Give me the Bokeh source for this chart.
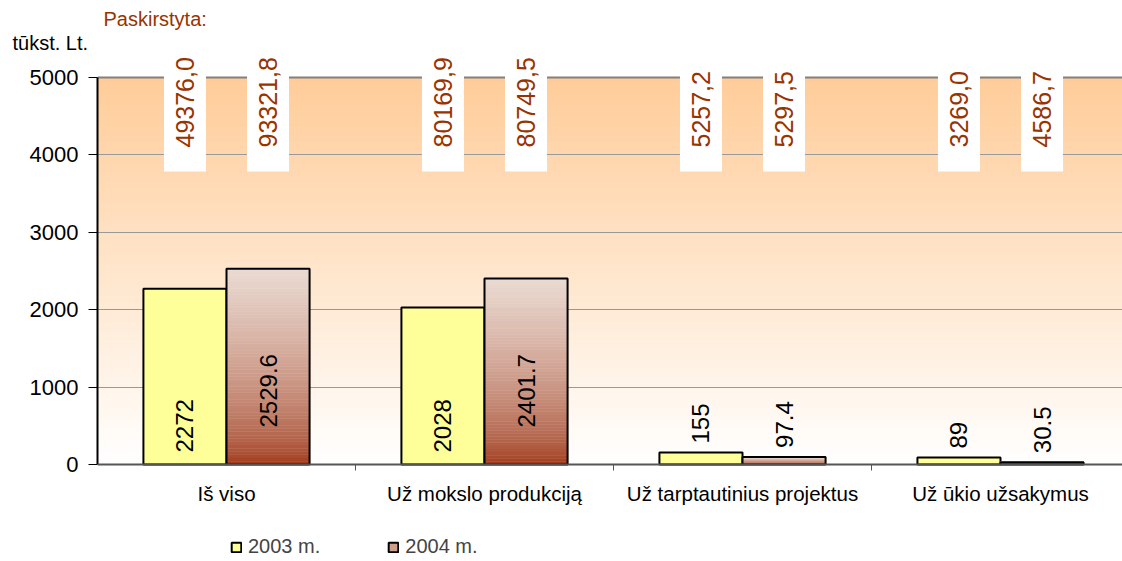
import numpy as np
from bokeh.plotting import figure
from bokeh.models import Range1d, FixedTicker, Legend, LegendItem, Title, Span
from bokeh.core.properties import value
from bokeh.embed import file_html
from bokeh.resources import INLINE

# ---------------- data ----------------
categories = ["Iš viso", "Už mokslo produkciją", "Už tarptautinius projektus", "Už ūkio užsakymus"]
values_2003 = [2272, 2028, 155, 89]
values_2004 = [2529.6, 2401.7, 97.4, 30.5]
labels_2003 = ["2272", "2028", "155", "89"]
labels_2004 = ["2529.6", "2401.7", "97.4", "30.5"]
allocated_2003 = ["49376,0", "80169,9", "5257,2", "3269,0"]
allocated_2004 = ["93321,8", "80749,5", "5297,5", "4586,7"]
series_names = ["2003 m.", "2004 m."]
y_ticks = [0, 1000, 2000, 3000, 4000, 5000]
y_max = 5000

# ---------------- layout (pixels) ----------------
FONT = "Liberation Sans"
W, H = 1122, 561
B_LEFT, B_TOP = 97, 53
Y0_PX, YMAX_PX = 464, 77              # canvas rows of 0 and y_max
u = y_max / (Y0_PX - YMAX_PX)         # data units per pixel
cat_px = 258.0
x_end = (W - B_LEFT) / cat_px
y_end = y_max + (YMAX_PX - B_TOP) * u
y_start = -(H - Y0_PX) * u

bar_w = 0.322
n = len(categories)
centers = np.arange(n) + 0.5
x03 = centers - bar_w / 2
x04 = centers + bar_w / 2

p = figure(width=W, height=H, output_backend="svg", toolbar_location=None,
           x_range=Range1d(0, x_end), y_range=Range1d(y_start, y_end),
           x_axis_location=None,
           min_border_left=B_LEFT, min_border_right=0, min_border_top=B_TOP,
           min_border_bottom=0, background_fill_color="white",
           border_fill_color="white", outline_line_color=None)

# titles
p.title.text = "Paskirstyta:"
p.title.text_font = FONT
p.title.text_font_size = "20px"
p.title.text_font_style = "normal"
p.title.text_color = "#993300"
p.title.align = "left"
p.title.offset = 6
p.title.standoff = 0
t2 = Title(text="tūkst. Lt.", text_font=FONT, text_font_size="20px",
           text_font_style="normal", text_color="black", align="left",
           offset=-85, standoff=0)
p.add_layout(t2, "above")

# gradient background of plot area (0..y_max)
nb = 200
edges = np.linspace(0, y_max, nb + 1)
mids = (edges[:-1] + edges[1:]) / 2 / y_max
top_c = np.array([255, 204, 153])
bot_c = np.array([255, 255, 255])
bg_cols = ["#%02x%02x%02x" % tuple(np.round(bot_c + (top_c - bot_c) * t).astype(int)) for t in mids]
p.quad(left=0, right=x_end, bottom=edges[:-1], top=edges[1:], fill_color=bg_cols,
       line_color=bg_cols, line_width=1, level="image")

# grid
p.xgrid.visible = False
p.ygrid.ticker = FixedTicker(ticks=y_ticks[1:-1])
p.ygrid.grid_line_color = "#999999"
p.ygrid.grid_line_width = 1
p.add_layout(Span(location=y_max, dimension="width", line_color="#808080",
                  line_width=2, level="underlay"))

# bars 2003
r03 = p.vbar(x=x03, top=values_2003, width=bar_w, bottom=0, fill_color="#FFFF99",
             line_color="black", line_width=2)

# bars 2004 with vertical gradient (slices; order starts mid-bar so the
# legend swatch, which uses row 3, gets a mid-tone)
light = np.array([234, 219, 211])
dark = np.array([156, 50, 18])
ns = 60
order = [(k + 25) % ns for k in range(ns)]
L, R, Bo, To, C = [], [], [], [], []
for xc, v in zip(x04, values_2004):
    e = np.linspace(0, v, ns + 1)
    for i in order:
        t = ((i + 0.5) / ns) ** 0.6
        col = "#%02x%02x%02x" % tuple(np.round(dark + (light - dark) * t).astype(int))
        L.append(xc - bar_w / 2); R.append(xc + bar_w / 2)
        Bo.append(e[i]); To.append(e[i + 1]); C.append(col)
r04g = p.quad(left=L, right=R, bottom=Bo, top=To, fill_color=C, line_color=C, line_width=0.5)
r04o = p.vbar(x=x04, top=values_2004, width=bar_w, bottom=0, fill_alpha=0,
              line_color="black", line_width=2)

# value labels
def label_y(vals, base_off_px):
    return [v + 9 * u if v < 1000 else base_off_px * u for v in vals]

p.text(x=x03, y=label_y(values_2003, 12), text=labels_2003, angle=np.pi / 2,
       text_align="left", text_baseline="middle", text_font=value(FONT),
       text_font_size="24px", text_color="black")
p.text(x=x04, y=label_y(values_2004, 37), text=labels_2004, angle=np.pi / 2,
       text_align="left", text_baseline="middle", text_font=value(FONT),
       text_font_size="24px", text_color="black")

# allocated amounts at top (white boxes)
xs_all = np.concatenate([x03, x04])
txt_all = allocated_2003 + allocated_2004
text_start = y_max - 70 * u
box_w = 42 / cat_px
p.quad(left=xs_all - box_w / 2, right=xs_all + box_w / 2, bottom=text_start - 24 * u,
       top=y_end, fill_color="white", line_color=None)
p.text(x=xs_all, y=text_start, text=txt_all, angle=np.pi / 2, text_align="left",
       text_baseline="middle", text_font=value(FONT), text_font_size="25px",
       text_color="#993300")

# y axis
ya = p.yaxis[0]
ya.ticker = FixedTicker(ticks=y_ticks)
ya.bounds = (0, y_max)
ya.axis_line_color = "black"
ya.axis_line_width = 2
ya.major_tick_out = 9
ya.major_tick_in = 0
ya.major_tick_line_color = "black"
ya.minor_tick_out = 0
ya.minor_tick_in = 0
ya.major_label_text_font = FONT
ya.major_label_text_font_size = "22px"
ya.major_label_standoff = 10
ya.major_label_text_color = "black"

# category axis (drawn in the frame: line, boundary ticks, labels)
p.add_layout(Span(location=0, dimension="width", line_color="#555555", line_width=2))
bounds_x = np.arange(1, n)
p.segment(x0=bounds_x, y0=0, x1=bounds_x, y1=-6 * u, line_color="#555555", line_width=1)
p.text(x=centers, y=-17 * u, text=categories, text_align="center", text_baseline="top",
       text_font=value(FONT), text_font_size="20.5px", text_color="black")

# legend
legend = Legend(items=[LegendItem(label=series_names[0], renderers=[r03]),
                       LegendItem(label=series_names[1], renderers=[r04g, r04o], index=3)],
                orientation="horizontal", location=(230 - B_LEFT, 3), label_text_font=FONT,
                label_text_font_size="20px", glyph_width=12, glyph_height=12,
                spacing=67, padding=0, margin=0, label_standoff=6,
                border_line_color=None, background_fill_alpha=0)
p.add_layout(legend)

open("out.html", "w").write(file_html(p, INLINE))
